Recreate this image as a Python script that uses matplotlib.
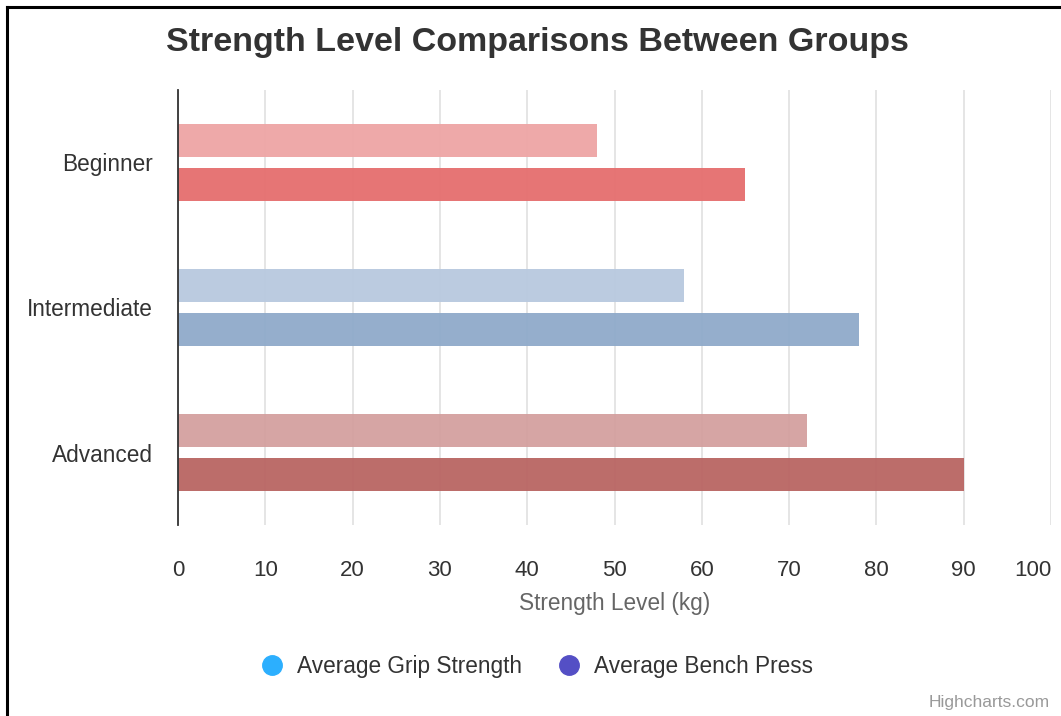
import matplotlib.pyplot as plt
from matplotlib.lines import Line2D

# Data
groups = ['Beginner', 'Intermediate', 'Advanced']
grip_strength = [48, 58, 72]
bench_press = [65, 78, 90]
grip_colors = ['#eea5a5', '#b8c9df', '#d4a09f']
bench_colors = ['#e56e6e', '#8faaca', '#b96562']
x_ticks = [0, 10, 20, 30, 40, 50, 60, 70, 80, 90, 100]

plt.rcParams['font.family'] = ['Liberation Sans', 'DejaVu Sans']

W, H = 1061, 716
fig = plt.figure(figsize=(W / 100, H / 100), dpi=100)

# black frame (only top and left visible in the reference)
fig.add_artist(Line2D([7 / W, 7 / W], [0, 1 - 7 / H], color='black', lw=2.2))
fig.add_artist(Line2D([7 / W, 1], [1 - 7 / H, 1 - 7 / H], color='black', lw=2.2))

left, right, top, bottom = 178, 1051, 90, 525
ax = fig.add_axes([left / W, 1 - bottom / H, (right - left) / W, (bottom - top) / H])

pos = list(range(len(groups)))
off = 0.152
h = 0.225
ax.barh([p - off for p in pos], grip_strength, height=h, color=grip_colors, alpha=0.95, zorder=2)
ax.barh([p + off for p in pos], bench_press, height=h, color=bench_colors, alpha=0.95, zorder=2)

ax.set_xlim(0, 100)
ax.set_ylim(len(groups) - 0.5, -0.5)
ax.set_xticks(x_ticks)
ax.set_yticks(pos)
ax.set_yticklabels(groups)
ax.grid(axis='x', color='#e0e0e0', lw=1.2, zorder=1)
ax.set_axisbelow(True)

for s in ['top', 'right', 'bottom']:
    ax.spines[s].set_visible(False)
ax.spines['left'].set_color('#333333')
ax.spines['left'].set_linewidth(1.3)
ax.spines['left'].set_zorder(3)

ax.tick_params(axis='both', length=0, labelcolor='#333333')
ax.tick_params(axis='x', pad=25, labelsize=16)
ax.tick_params(axis='y', pad=18, labelsize=16.3)
# last label kept inside the chart, as Highcharts does
ax.get_xticklabels()[-1].set_horizontalalignment('right')

ax.set_xlabel('Strength Level (kg)', fontsize=16.3, color='#666666', labelpad=8)

fig.text(537 / W, 1 - 42 / H, 'Strength Level Comparisons Between Groups',
         ha='center', va='center', fontsize=24.5, fontweight='bold', color='#333333')

handles = [
    Line2D([], [], marker='o', ls='none', markersize=14, color='#2caffe', label='Average Grip Strength'),
    Line2D([], [], marker='o', ls='none', markersize=14, color='#544fc5', label='Average Bench Press'),
]
fig.legend(handles=handles, loc='center', bbox_to_anchor=(531 / W, 1 - 666 / H), ncol=2,
           frameon=False, fontsize=16.3, handletextpad=0.08, columnspacing=1.1,
           labelcolor='#333333')

fig.text(1050 / W, 1 - 702 / H, 'Highcharts.com', ha='right', va='center',
         fontsize=12.5, color='#999999')

fig.savefig('out.png', dpi=100)
